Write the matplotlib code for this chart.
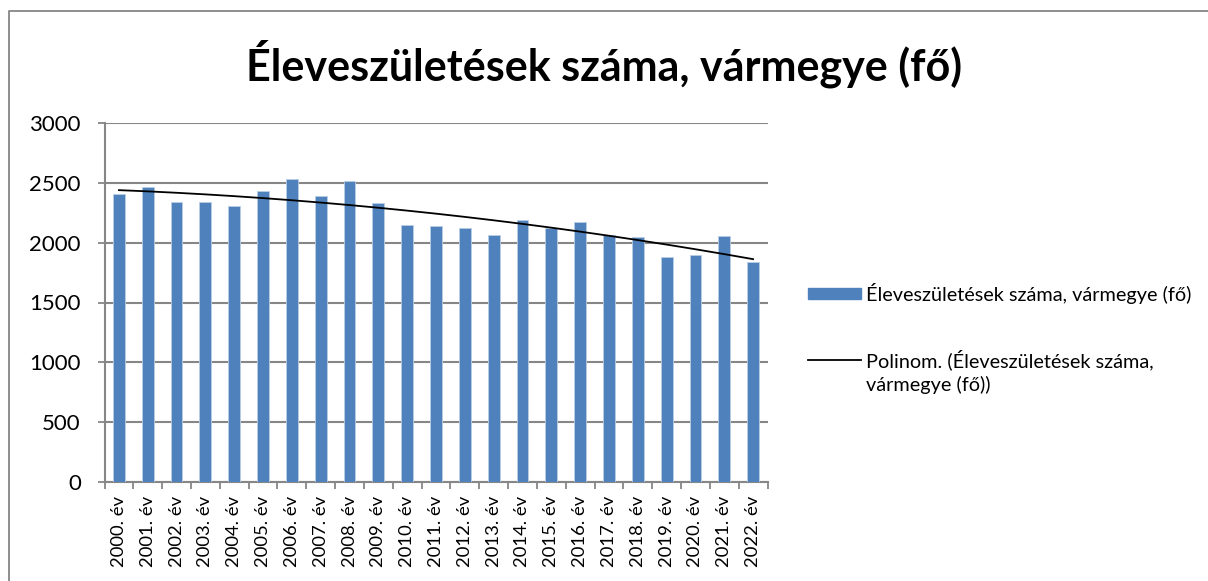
import numpy as np
import matplotlib
matplotlib.use("Agg")
import matplotlib.pyplot as plt
from matplotlib.patches import Rectangle
from matplotlib.lines import Line2D

plt.rcParams['font.family'] = ['Lato', 'DejaVu Sans']

# data
years = [2000, 2001, 2002, 2003, 2004, 2005, 2006, 2007, 2008, 2009, 2010, 2011,
         2012, 2013, 2014, 2015, 2016, 2017, 2018, 2019, 2020, 2021, 2022]
labels = [str(y) + ". év" for y in years]
births = [2410, 2463, 2344, 2338, 2305, 2433, 2533, 2394, 2519, 2333, 2150, 2139,
          2122, 2064, 2189, 2119, 2169, 2062, 2047, 1880, 1900, 2058, 1836]

title = "Éleveszületések száma, vármegye (fő)"
bar_label = "Éleveszületések száma, vármegye (fő)"
trend_label = "Polinom. (Éleveszületések száma,\nvármegye (fő))"

grid_col = "#868686"
bar_col = "#4f81bd"

W, H = 1208, 581
fig = plt.figure(figsize=(W / 100, H / 100), dpi=100)

# chart border: only the top and left edges fall inside the image
fig.add_artist(Line2D([9 / W, 9 / W, 1.0], [0.0, 1 - 10.5 / H, 1 - 10.5 / H],
                      transform=fig.transFigure, color=grid_col, lw=1.3))

ax = fig.add_axes([104.5 / W, 1 - 482 / H, (767.5 - 104.5) / W, (482 - 123) / H])

x = np.arange(len(years))
ax.bar(x, births, width=0.41, color=bar_col, edgecolor="#b9cde5", linewidth=0.6, zorder=3)

# 2nd order polynomial trend line
coef = np.polyfit(x, births, 2)
ax.plot(x, np.polyval(coef, x), color="black", lw=1.3, zorder=4)

ax.set_xlim(-0.5, len(years) - 0.5)
ax.set_ylim(0, 3000)
ax.set_yticks(np.arange(0, 3001, 500))
ax.yaxis.grid(True, color=grid_col, lw=1.5, zorder=0)
ax.set_axisbelow(True)

ax.set_xticks(x)
ax.set_xticklabels(labels, rotation=90, fontsize=13.3)
ax.set_xticks(np.arange(-0.5, len(years)), minor=True)
ax.tick_params(axis="x", which="major", length=0, pad=10)
ax.tick_params(axis="x", which="minor", length=5, color=grid_col, width=1.3)
ax.tick_params(axis="y", length=5, color=grid_col, width=1.3, labelsize=16, pad=12)

for s in ["top", "right"]:
    ax.spines[s].set_visible(False)
for s in ["left", "bottom"]:
    ax.spines[s].set_color(grid_col)
    ax.spines[s].set_linewidth(1.5)

fig.text(0.5, 1 - 64 / H, title, fontsize=31, fontweight="bold", ha="center", va="center")

# legend, drawn by hand so the trend handle sits on the first text line
fig.add_artist(Rectangle((808 / W, 1 - 299 / H), 53 / W, 11 / H, transform=fig.transFigure,
                         color=bar_col))
fig.text(866 / W, 1 - 293 / H, bar_label, fontsize=14.3, va="center")
fig.add_artist(Line2D([808 / W, 861 / W], [1 - 360 / H, 1 - 360 / H],
                      transform=fig.transFigure, color="black", lw=1.3))
fig.text(866 / W, 1 - 360 / H, trend_label.split("\n")[0], fontsize=14.3, va="center")
fig.text(866 / W, 1 - 385 / H, trend_label.split("\n")[1], fontsize=14.3, va="center")

fig.savefig("out.png", dpi=100)
